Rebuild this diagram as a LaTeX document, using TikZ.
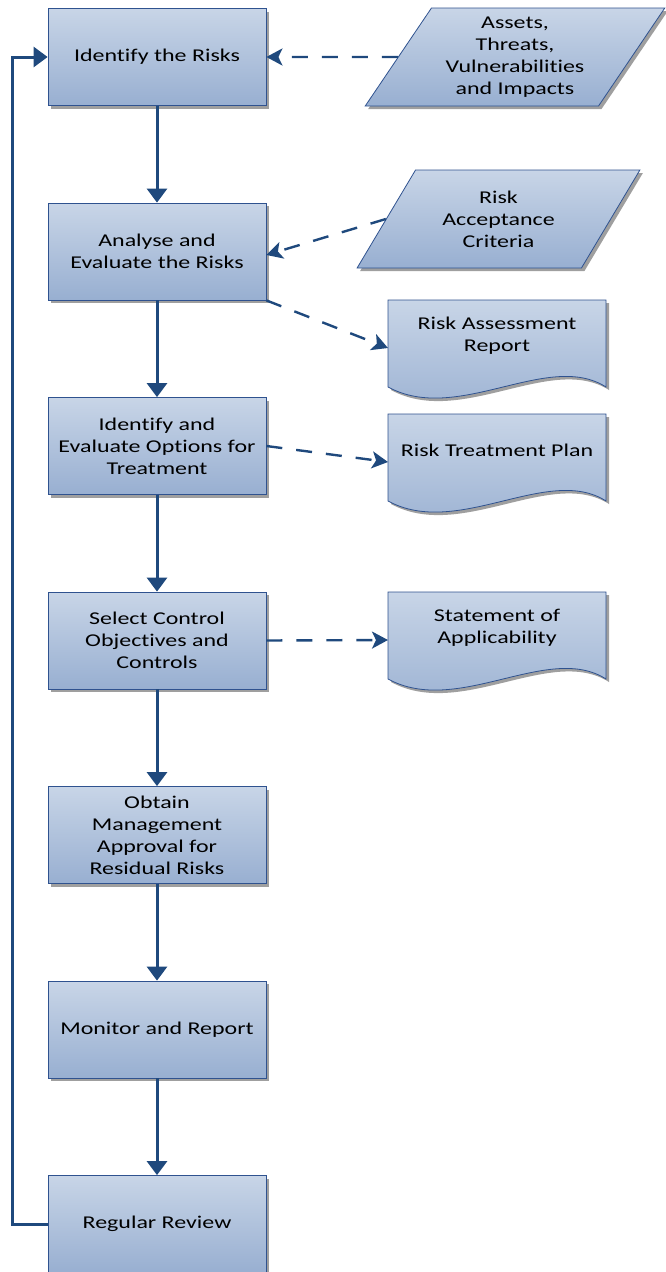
\documentclass[tikz,border=0pt]{standalone}
\usepackage{fontspec}
\setmainfont{Carlito}[FakeStretch=1.33,Ligatures=NoCommon]
\usetikzlibrary{arrows.meta,shapes.geometric,shadows,backgrounds}

\definecolor{boxtop}{RGB}{200,213,231}
\definecolor{boxbot}{RGB}{152,175,209}
\definecolor{boxline}{RGB}{47,82,143}
\definecolor{flowline}{RGB}{31,73,125}

\begin{document}
\begin{tikzpicture}[x=1pt,y=-1pt,
  font=\fontsize{18}{22}\selectfont,
  main node/.style={rectangle,draw=boxline,line width=0.8pt,top color=boxtop,bottom color=boxbot,
    minimum width=218pt,minimum height=97pt,align=center,
    drop shadow={shadow xshift=3pt,shadow yshift=-3pt,fill=gray!75,opacity=1}},
  data node/.style={trapezium,trapezium left angle=56.5,trapezium right angle=123.5,trapezium stretches,
    draw=boxline,line width=0.8pt,top color=boxtop,bottom color=boxbot,minimum height=98pt,align=center,
    drop shadow={shadow xshift=3pt,shadow yshift=-3pt,fill=gray!75,opacity=1}},
  doc node/.style={rectangle,minimum width=218pt,minimum height=72pt,outer sep=0pt,anchor=north,align=center},
  doc shape/.style={draw=boxline,line width=0.8pt,top color=boxtop,bottom color=boxbot},
  flow/.style={-{Triangle[length=14pt,width=20pt]},color=flowline,line width=3pt},
  info/.style={-{Stealth[length=16pt,width=17pt,inset=4pt]},color=flowline,line width=2.4pt,
    dash pattern=on 16pt off 14pt}]

  \useasboundingbox (0,0) rectangle (665,1272);

  \node[main node] (identify) at (157,57) {Identify the Risks};
  \node[main node] (analyse) at (157,251.5) {Analyse and\\Evaluate the Risks};
  \node[main node] (options) at (157,446) {Identify and\\Evaluate Options for\\Treatment};
  \node[main node] (controls) at (157,640.5) {Select Control\\Objectives and\\Controls};
  \node[main node] (approval) at (157,835) {Obtain\\Management\\Approval for\\Residual Risks};
  \node[main node] (monitor) at (157,1029.5) {Monitor and Report};
  \node[main node] (review) at (157,1224) {Regular Review};

  \node[data node,minimum width=300pt] (assets) at (515,57) {Assets,\\Threats,\\Vulnerabilities\\and Impacts};
  \node[data node,minimum width=283pt] (criteria) at (498.5,219) {Risk\\Acceptance\\Criteria};

  \node[doc node] (report) at (497,300) {Risk Assessment\\Report};
  \node[doc node] (plan) at (497,414) {Risk Treatment Plan};
  \node[doc node] (soa) at (497,592) {Statement of\\Applicability};

  % document outlines with the wavy lower edge
  \begin{pgfonlayer}{background}
    \foreach \d in {report,plan,soa} {
      \fill[gray!75] ([xshift=3pt,yshift=-3pt]\d.north west) -- ++(218,0) -- ++(0,87)
        .. controls +(-58,-37) and +(70,38) .. ++(-218,0) -- cycle;
      \path[doc shape] (\d.north west) -- ++(218,0) -- ++(0,87)
        .. controls +(-58,-37) and +(70,38) .. ++(-218,0) -- cycle;
    }
  \end{pgfonlayer}

  \path[flow]
    (identify) edge (analyse)
    (analyse) edge (options)
    (options) edge (controls)
    (controls) edge (approval)
    (approval) edge (monitor)
    (monitor) edge (review);
  \draw[flow] (review.west) -- ++(-35,0) |- (identify.west);

  \path[info]
    (assets.west) edge (identify.east)
    (criteria.west) edge ([yshift=-3.5pt]analyse.east)
    (analyse.south east) edge ([yshift=-12pt]report.west)
    (options.east) edge ([yshift=-12pt]plan.west)
    (controls.east) edge ([yshift=-12pt]soa.west);

\end{tikzpicture}
\end{document}
